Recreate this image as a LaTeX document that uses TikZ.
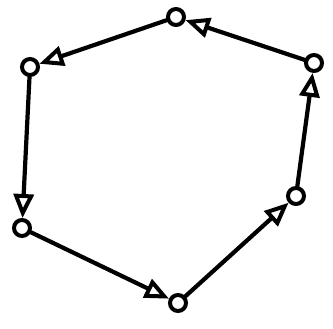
\documentclass[tikz,border=0pt]{standalone}
\usepackage{tikz}
\usetikzlibrary{arrows.meta}
\tikzset{
  vtx/.style={draw=black,circle,line width=4pt,fill=white,inner sep=0pt,
    minimum size=16pt},
  edge/.style={-{Triangle[open,length=24pt,width=20pt,line width=4pt]},
    line width=4.2pt,black,line cap=round}
}
\begin{document}
\begin{tikzpicture}[x=1pt,y=-1pt]
  \useasboundingbox (0,0) rectangle (333,329);
  \node[vtx] (top) at (176,17) {};
  \node[vtx] (tr) at (314,63) {};
  \node[vtx] (rt) at (296,196) {};
  \node[vtx] (bot) at (178,303) {};
  \node[vtx] (lb) at (22,228) {};
  \node[vtx] (lt) at (30,67) {};
  \draw[edge] (tr) -- (top);
  \draw[edge] (top) -- (lt);
  \draw[edge] (lt) -- (lb);
  \draw[edge] (lb) -- (bot);
  \draw[edge] (bot) -- (rt);
  \draw[edge] (rt) -- (tr);
\end{tikzpicture}
\end{document}
